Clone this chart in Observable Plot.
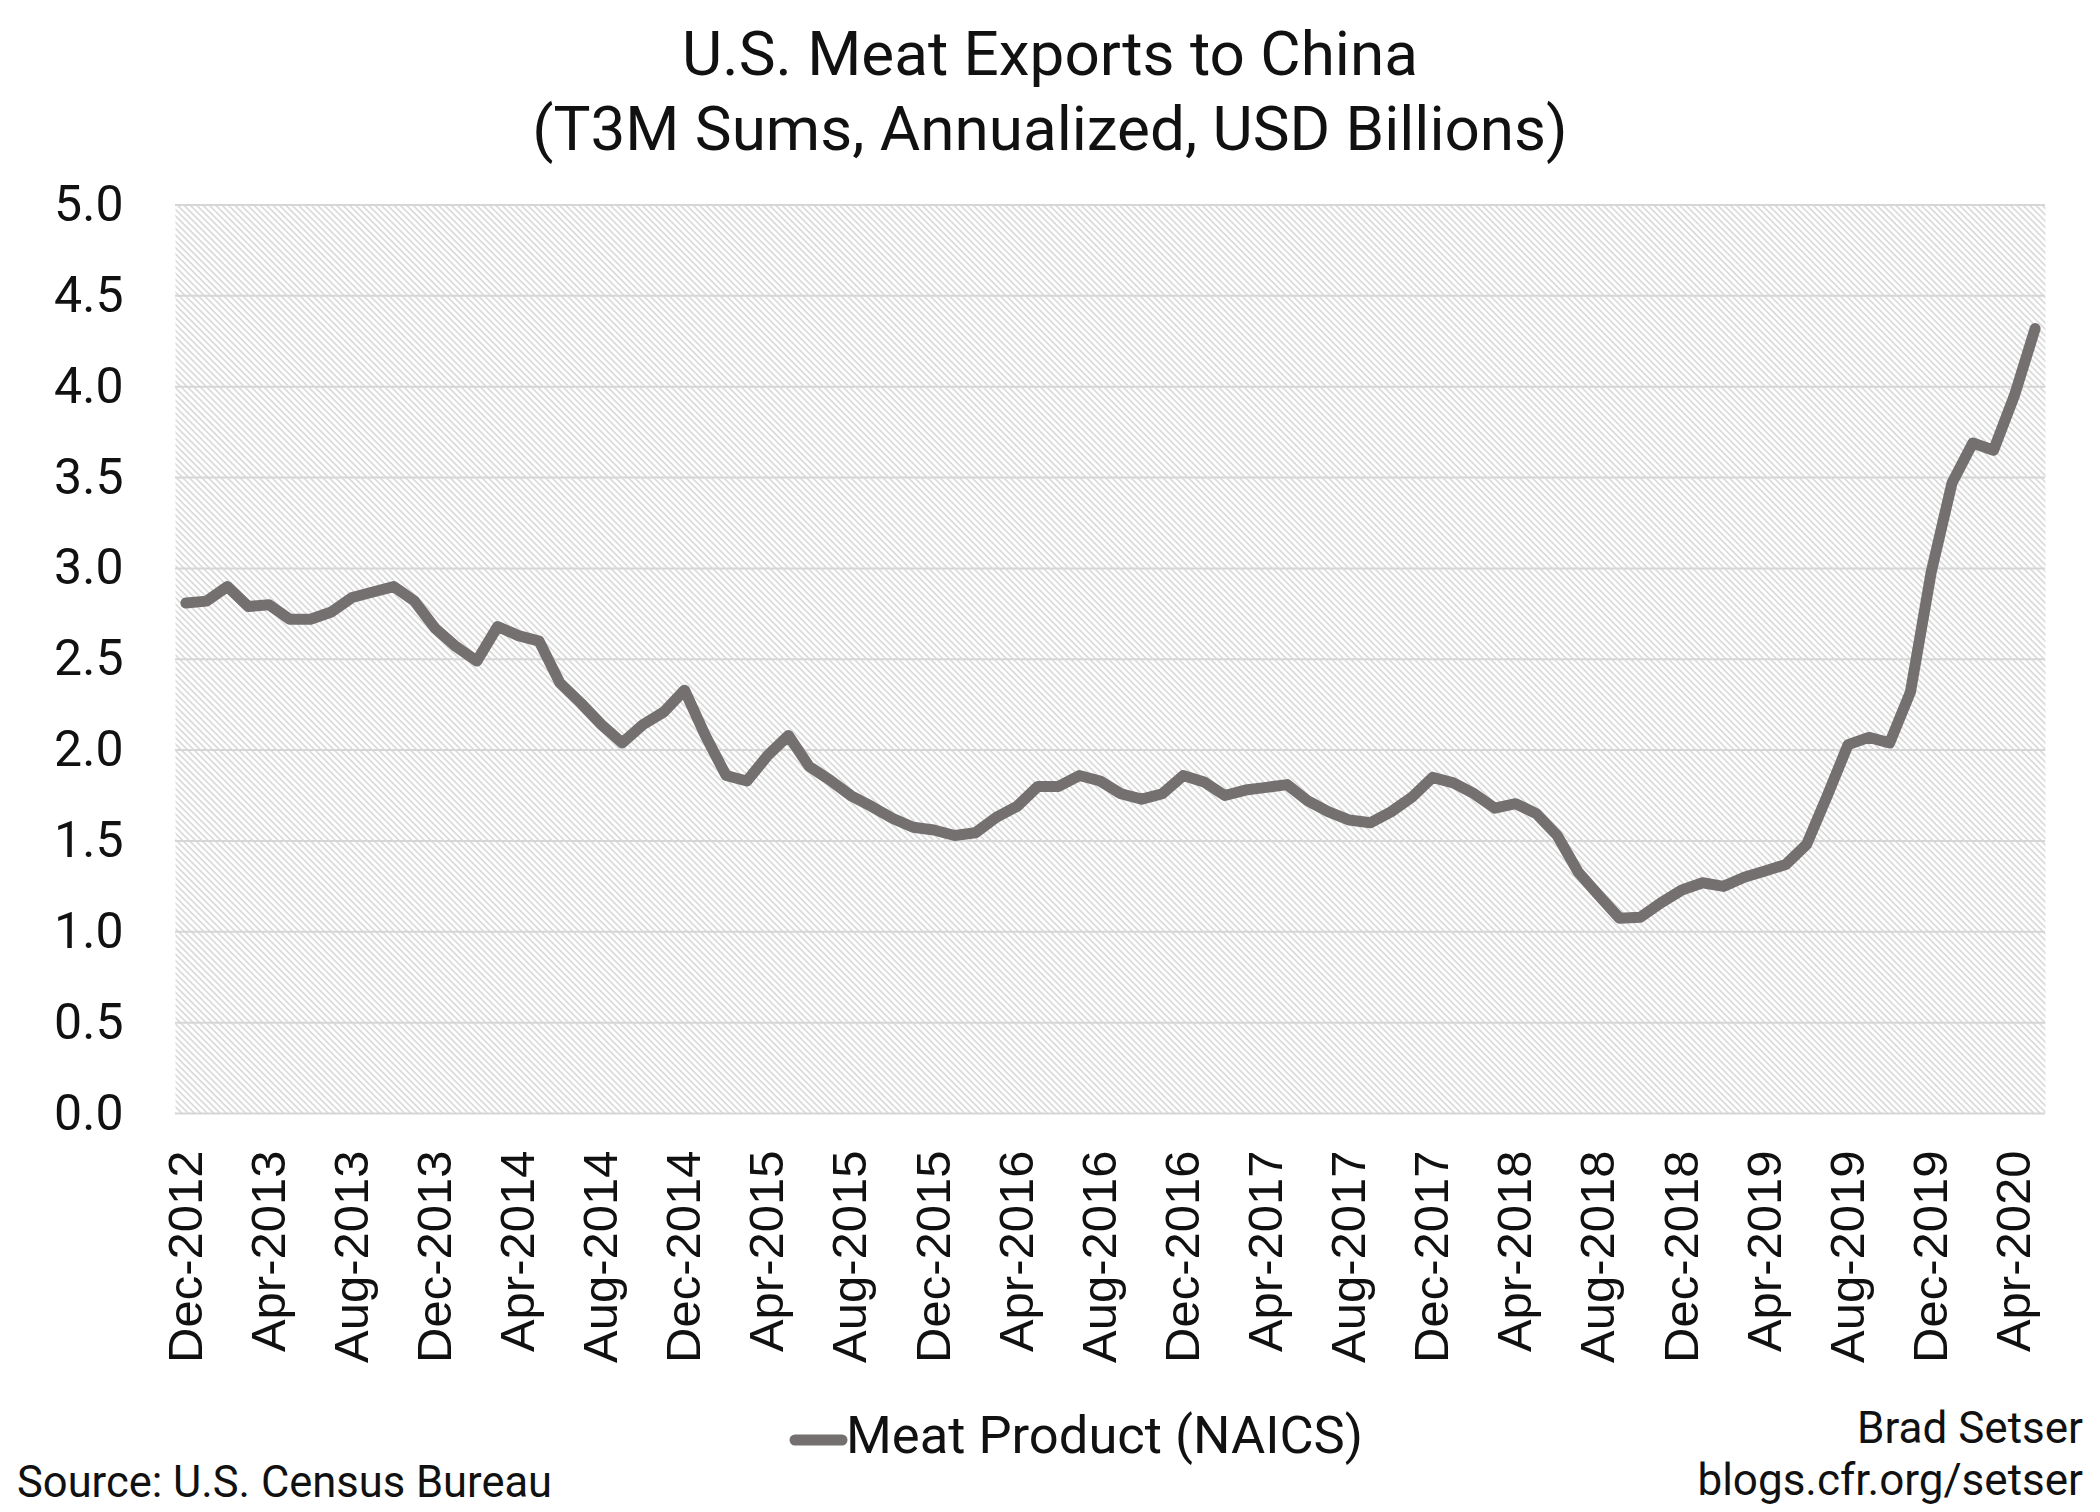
<!DOCTYPE html>
<html>
<head>
<meta charset="utf-8">
<script src="https://cdn.jsdelivr.net/npm/d3@7"></script>
<script src="https://cdn.jsdelivr.net/npm/@observablehq/plot@0.6"></script>
<style>
  html, body { margin: 0; padding: 0; background: #fff; }
  #page { position: relative; width: 2100px; height: 1512px; overflow: hidden; background: #fff; font-family: Roboto, "Noto Sans", sans-serif; color: #111; }
  .t { position: absolute; white-space: nowrap; line-height: 1; }
  #chart { position: absolute; left: 0; top: 150px; }
  #chart svg { overflow: visible; }
  #chart g[aria-label="x-axis tick label"] text { font-family: "Liberation Sans", Arial, sans-serif; }
</style>
</head>
<body>
<div id="page">
  <div class="t" style="left:0;width:2100px;text-align:center;top:23px;font-size:62px;">U.S. Meat Exports to China</div>
  <div class="t" style="left:0;width:2100px;text-align:center;top:98px;font-size:62px;">(T3M Sums, Annualized, USD Billions)</div>
  <div id="chart"></div>
  <svg style="position:absolute;left:785px;top:1425px;" width="70" height="30"><line x1="10" y1="15" x2="57" y2="15" stroke="#747070" stroke-width="11" stroke-linecap="round"/></svg>
  <div class="t" style="left:846px;top:1409px;font-size:52.5px;">Meat Product (NAICS)</div>
  <div class="t" style="left:17px;top:1461px;font-size:43.5px;">Source: U.S. Census Bureau</div>
  <div class="t" style="right:17px;top:1406px;font-size:44px;text-align:right;">Brad Setser</div>
  <div class="t" style="right:17px;top:1458px;font-size:44px;text-align:right;">blogs.cfr.org/setser</div>
</div>
<script>
const months = [
  "Dec-2012",
  "Jan-2013","Feb-2013","Mar-2013","Apr-2013","May-2013","Jun-2013","Jul-2013","Aug-2013","Sep-2013","Oct-2013","Nov-2013","Dec-2013",
  "Jan-2014","Feb-2014","Mar-2014","Apr-2014","May-2014","Jun-2014","Jul-2014","Aug-2014","Sep-2014","Oct-2014","Nov-2014","Dec-2014",
  "Jan-2015","Feb-2015","Mar-2015","Apr-2015","May-2015","Jun-2015","Jul-2015","Aug-2015","Sep-2015","Oct-2015","Nov-2015","Dec-2015",
  "Jan-2016","Feb-2016","Mar-2016","Apr-2016","May-2016","Jun-2016","Jul-2016","Aug-2016","Sep-2016","Oct-2016","Nov-2016","Dec-2016",
  "Jan-2017","Feb-2017","Mar-2017","Apr-2017","May-2017","Jun-2017","Jul-2017","Aug-2017","Sep-2017","Oct-2017","Nov-2017","Dec-2017",
  "Jan-2018","Feb-2018","Mar-2018","Apr-2018","May-2018","Jun-2018","Jul-2018","Aug-2018","Sep-2018","Oct-2018","Nov-2018","Dec-2018",
  "Jan-2019","Feb-2019","Mar-2019","Apr-2019","May-2019","Jun-2019","Jul-2019","Aug-2019","Sep-2019","Oct-2019","Nov-2019","Dec-2019",
  "Jan-2020","Feb-2020","Mar-2020","Apr-2020","May-2020"
];

const meatExports = [
  2.81,2.82,2.90,2.79,2.80,2.72,2.72,2.76,2.84,2.87,
  2.90,2.82,2.67,2.57,2.49,2.68,2.63,2.60,2.37,2.26,
  2.14,2.04,2.14,2.21,2.33,2.08,1.86,1.83,1.97,2.08,
  1.91,1.835,1.75,1.69,1.625,1.575,1.56,1.53,1.545,1.63,
  1.69,1.80,1.80,1.86,1.83,1.76,1.73,1.76,1.86,1.825,
  1.75,1.78,1.795,1.81,1.72,1.66,1.615,1.60,1.66,1.74,
  1.85,1.82,1.76,1.68,1.705,1.65,1.53,1.33,1.20,1.075,
  1.08,1.16,1.23,1.27,1.25,1.30,1.335,1.37,1.48,1.75,
  2.03,2.07,2.04,2.32,2.98,3.47,3.69,3.65,3.95,4.32
];

const xTickLabels = [
  "Dec-2012","Apr-2013","Aug-2013","Dec-2013","Apr-2014","Aug-2014","Dec-2014",
  "Apr-2015","Aug-2015","Dec-2015","Apr-2016","Aug-2016","Dec-2016","Apr-2017",
  "Aug-2017","Dec-2017","Apr-2018","Aug-2018","Dec-2018","Apr-2019","Aug-2019",
  "Dec-2019","Apr-2020"
];

const yTicks = [0, 0.5, 1, 1.5, 2, 2.5, 3, 3.5, 4, 4.5, 5];

const data = months.map((m, i) => ({month: m, value: meatExports[i]}));

const chart = Plot.plot({
  width: 2100,
  height: 1230,
  marginTop: 54.5,
  marginBottom: 267,
  marginLeft: 175,
  marginRight: 55,
  style: {fontFamily: "Roboto, 'Noto Sans', sans-serif", color: "#111", background: "transparent", overflow: "visible"},
  x: {type: "point", domain: months, padding: 0.5, axis: null},
  y: {domain: [0, 5], axis: null},
  marks: [
    Plot.frame({fill: "url(#hatch)", stroke: null}),
    Plot.gridY(yTicks, {stroke: "#d6d6d6", strokeOpacity: 1, strokeWidth: 2}),
    Plot.axisY({ticks: yTicks, tickSize: 0, tickPadding: 52, tickFormat: d => d.toFixed(1), fontSize: 50, label: null, fill: "#111"}),
    Plot.axisX({ticks: xTickLabels, tickSize: 0, tickRotate: -90, tickPadding: 37, fontSize: 49, label: null, fill: "#111"}),
    Plot.line(data, {x: "month", y: "value", stroke: "#747070", strokeWidth: 11, strokeLinejoin: "round", strokeLinecap: "round"})
  ]
});

const defs = d3.select(chart).insert("defs", ":first-child");
const pat = defs.append("pattern")
  .attr("id", "hatch")
  .attr("patternUnits", "userSpaceOnUse")
  .attr("width", 4.5)
  .attr("height", 4.5)
  .attr("patternTransform", "rotate(-45)");
pat.append("rect").attr("width", 4.5).attr("height", 4.5).attr("fill", "#ffffff");
pat.append("line").attr("x1", 1).attr("y1", 0).attr("x2", 1).attr("y2", 4.5)
  .attr("stroke", "#cfcfcf").attr("stroke-width", 1.3);

document.getElementById("chart").appendChild(chart);
</script>
</body>
</html>
